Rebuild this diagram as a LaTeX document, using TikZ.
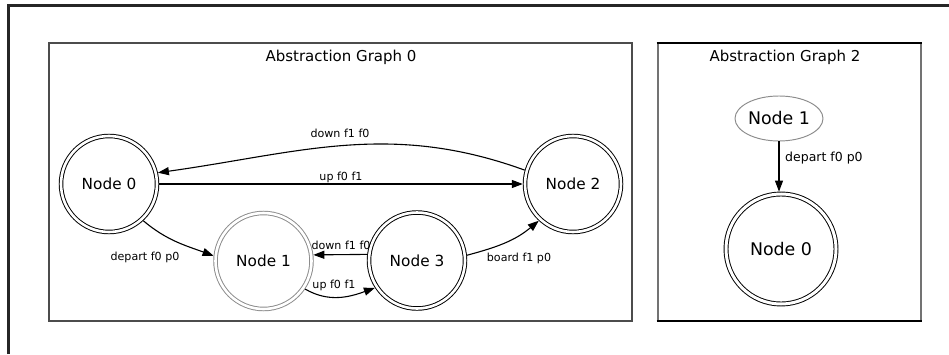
\documentclass[tikz,border=0pt]{standalone}
\usepackage{fontspec}
\setmainfont{DejaVu Sans}
\usetikzlibrary{arrows.meta,shapes.geometric}

\begin{document}
\begin{tikzpicture}[x=1pt,y=1pt,
  state/.style={circle, draw=black, double=white, double distance=2.6pt,
    line width=0.95pt, minimum size=96pt, inner sep=0pt, outer sep=2.2pt,
    font=\fontsize{15.3}{18}\selectfont},
  bigstate/.style={state, minimum size=110pt, double distance=3pt,
    outer sep=2.4pt, font=\fontsize{17.4}{20}\selectfont},
  edge/.style={line width=1.1pt, -{Triangle[length=11pt,width=8pt]}},
  elabel/.style={font=\fontsize{11.1}{13}\selectfont, inner sep=0pt},
  title/.style={font=\fontsize{15}{18}\selectfont, inner sep=0pt}
]
\useasboundingbox (0,0) rectangle (949,354);
\fill[white] (0,0) rectangle (949,354);

% outer frame (only top and left edges in view)
\draw[line width=3pt, black!85] (8,0) -- (8,348) -- (949,348);

% cluster boxes
\draw[line width=1.1pt, black!70] (49,33) rectangle (632,311);
\draw[line width=1.1pt, black!55] (658,33) -- (658,311);
\draw[line width=1.1pt, black!55] (921,33) -- (921,311);
\draw[line width=2.6pt, black] (656.7,311) -- (922.3,311);
\draw[line width=2.6pt, black] (656.7,33) -- (922.3,33);

\node[title] (t0) at (341,297) {Abstraction Graph 0};
\node[title] (t2) at (785,297) {Abstraction Graph 2};

% graph 0
\node[state] (n0) at (109,170) {Node 0};
\node[state, draw=black!45] (n1) at (263.5,93) {Node 1};
\node[state] (n3) at (417,93.5) {Node 3};
\node[state] (n2) at (573,170) {Node 2};

\draw[edge] (n2.164) to[out=160,in=8] (n0.13);
\node[elabel] (l1) at (340,221) {down f1 f0};

\draw[edge] (n0.east) -- (n2.west);
\node[elabel] (l2) at (341,177) {up f0 f1};

\draw[edge] (n0.-47) to[out=-40,in=160] (n1.174);
\node[elabel] (l3) at (145,97) {depart f0 p0};

\draw[edge] (n3.173) -- (n1.7);
\node[elabel] (l4) at (341,109) {down f1 f0};

\draw[edge] (n1.-34) to[out=-30,in=200] (n3.-147);
\node[elabel] (l5) at (334,69) {up f0 f1};

\draw[edge] (n3.6) to[out=15,in=220] (n2.-133);
\node[elabel] (l6) at (519,96) {board f1 p0};

% graph 2
\node[ellipse, draw=black!45, line width=0.95pt, minimum width=88pt,
  minimum height=45pt, inner sep=0pt, font=\fontsize{17.4}{20}\selectfont]
  (m1) at (779,235.5) {Node 1};
\node[bigstate] (m0) at (781,105) {Node 0};
\draw[edge] (m1.south) -- (m1.south |- m0.north);
\node[elabel, font=\fontsize{12.5}{15}\selectfont, anchor=west] (l7) at (785,196) {depart f0 p0};
\end{tikzpicture}
\end{document}
